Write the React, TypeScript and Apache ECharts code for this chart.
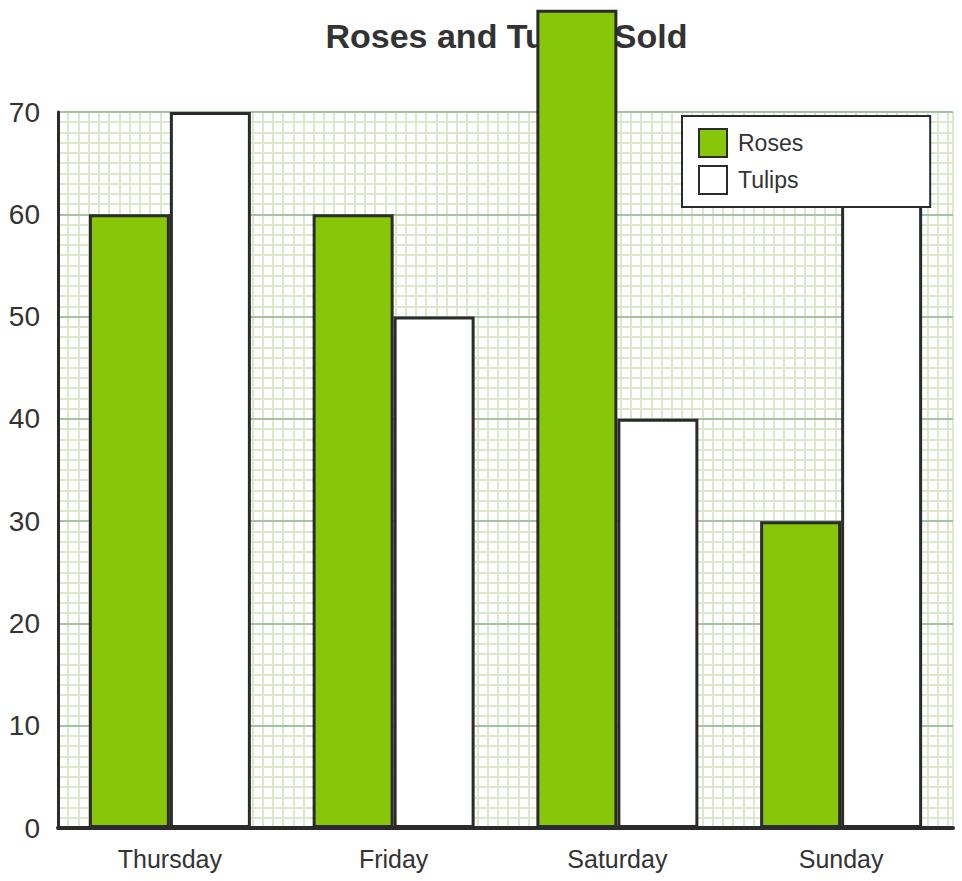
import React, { useEffect, useRef } from "react";
import * as echarts from "echarts";

const categories = ["Thursday", "Friday", "Saturday", "Sunday"];
const roses = [60, 60, 80, 30];
const tulips = [70, 50, 40, 65];
const seriesNames = ["Roses", "Tulips"];
const titleText = "Roses and Tulips Sold";

const FONT = "'Liberation Sans', Arial, Helvetica, sans-serif";
const DARK = "#2b2b2b";
const TEXT = "#333333";
const GREEN = "#88c60a";
const MINOR = "#dbe8cc";
const MAJOR = "#a2c4a2";

export default function App() {
  const ref = useRef<HTMLDivElement>(null);
  useEffect(() => {
    if (!ref.current) return;
    const chart = echarts.init(ref.current, undefined, { renderer: "svg" });
    const gridLeft = 58;
    const gridRight = 9;
    const gridTop = 112;
    const gridBottom = 53;
    const plotW = 962 - gridLeft - gridRight;
    const plotH = 881 - gridTop - gridBottom;
    const unitPx = plotH / 70;
    chart.setOption({
      animation: false,
      textStyle: { fontFamily: FONT },
      title: {
        text: titleText,
        left: gridLeft + plotW / 2 - 4,
        textAlign: "center",
        top: 14,
        z: 1,
        textStyle: { fontSize: 34, fontWeight: "bold", color: TEXT, fontFamily: FONT },
      },
      legend: {
        data: seriesNames,
        orient: "vertical",
        left: 682,
        top: 116,
        padding: [12, 127, 12, 16],
        itemGap: 7,
        itemWidth: 28,
        itemHeight: 28,
        icon: "rect",
        backgroundColor: "#ffffff",
        borderColor: DARK,
        borderWidth: 2,
        borderRadius: 0,
        itemStyle: { borderColor: DARK, borderWidth: 2 },
        textStyle: { fontSize: 23, lineHeight: 24, color: TEXT, fontFamily: FONT, padding: [0, 0, 0, 6] },
        z: 10,
      },
      grid: { left: gridLeft, right: gridRight, top: gridTop, bottom: gridBottom, containLabel: false },
      xAxis: [
        {
          type: "category",
          data: categories,
          axisLine: { show: true, lineStyle: { color: DARK, width: 4 } },
          axisTick: { show: false },
          axisLabel: { fontSize: 25, color: TEXT, margin: 18, fontFamily: FONT },
          splitLine: { show: false },
          z: 5,
        },
        {
          type: "value",
          min: 0,
          max: plotW / unitPx,
          interval: 1,
          show: true,
          position: "top",
          axisLine: { show: false },
          axisTick: { show: false },
          axisLabel: { show: false },
          splitLine: { show: true, lineStyle: { color: MINOR, width: 2 } },
          z: 0,
        },
      ],
      yAxis: {
        type: "value",
        min: 0,
        max: 70,
        interval: 10,
        axisLine: { show: true, lineStyle: { color: DARK, width: 3 } },
        axisTick: { show: false },
        axisLabel: { fontSize: 28, color: TEXT, margin: 18, fontFamily: FONT },
        splitLine: { show: true, lineStyle: { color: MAJOR, width: 2 } },
        minorTick: { show: false, splitNumber: 10 },
        minorSplitLine: { show: true, lineStyle: { color: MINOR, width: 2 } },
        z: 1,
      },
      series: [
        {
          name: seriesNames[0],
          type: "bar",
          data: roses,
          barWidth: 81,
          barGap: "0%",
          clip: false,
          z: 3,
          itemStyle: { color: GREEN, borderColor: DARK, borderWidth: 3 },
        },
        {
          name: seriesNames[1],
          type: "bar",
          data: tulips,
          barWidth: 81,
          barGap: "0%",
          clip: false,
          z: 3,
          itemStyle: { color: "#ffffff", borderColor: DARK, borderWidth: 3 },
        },
      ],
    });
    return () => chart.dispose();
  }, []);
  return (
    <div
      ref={ref}
      style={{ position: "absolute", left: 0, top: 0, width: 962, height: 881 }}
    />
  );
}
